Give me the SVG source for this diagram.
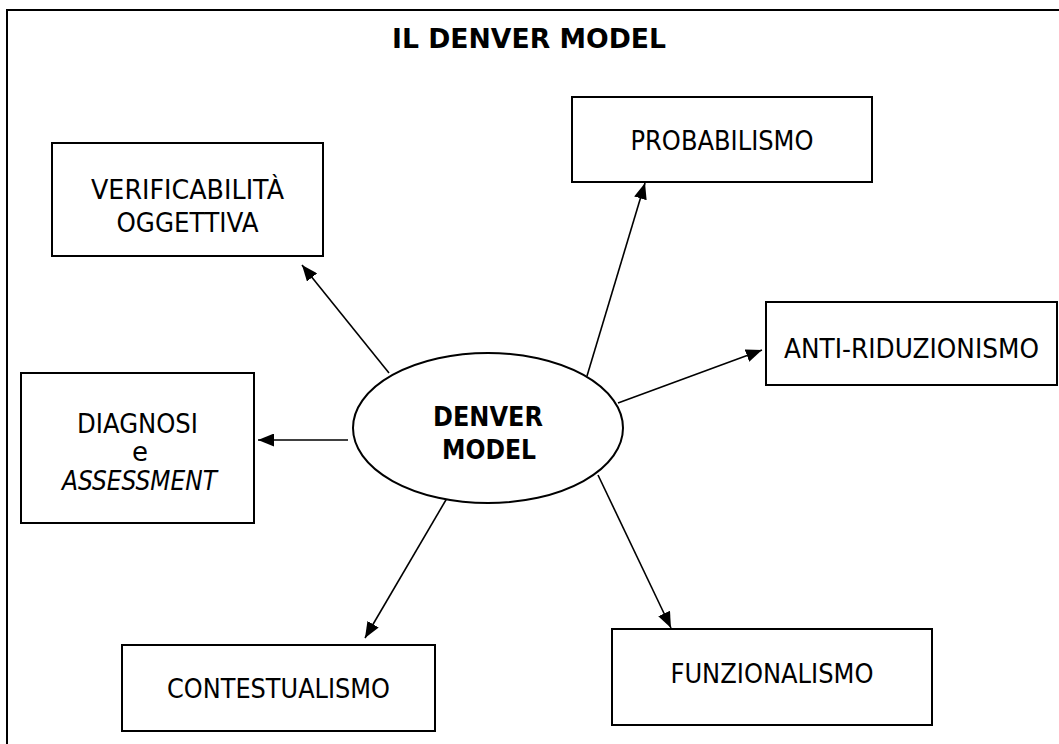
<svg xmlns="http://www.w3.org/2000/svg" width="1059" height="744" viewBox="0 0 1059 744">
<style>
.box{fill:#fff;stroke:#000;stroke-width:2}
.t{font-family:"DejaVu Sans","Liberation Sans",sans-serif;font-size:26px;fill:#000;text-anchor:middle}
.b{font-weight:bold;font-size:26px}
.i{font-style:italic}
.c{stroke:#000;stroke-width:1.6;fill:none;marker-end:url(#ah)}
</style>
<defs>
<marker id="ah" markerUnits="userSpaceOnUse" markerWidth="16" markerHeight="13" refX="16" refY="6.5" orient="auto">
<path d="M0,0 L16,6.5 L0,13 z" fill="#000"/>
</marker>
</defs>
<rect x="0" y="0" width="1059" height="744" fill="#fff"/>
<rect id="frame" x="7" y="10" width="1080" height="770" fill="none" stroke="#000" stroke-width="2"/>
<text class="t b" x="529" y="48" font-size="26" textLength="274" lengthAdjust="spacingAndGlyphs">IL DENVER MODEL</text>

<g id="connectors">
<line class="c" x1="389" y1="373" x2="302" y2="265"/>
<line class="c" x1="587" y1="376" x2="645" y2="183"/>
<line class="c" x1="618" y1="403" x2="762" y2="350"/>
<line class="c" x1="348" y1="440" x2="258" y2="440"/>
<line class="c" x1="450" y1="493" x2="365" y2="638"/>
<line class="c" x1="598" y1="475" x2="671" y2="628"/>
</g>

<g id="center">
<ellipse cx="488" cy="428" rx="135" ry="75" fill="#fff" stroke="#000" stroke-width="2"/>
<text class="t b" x="488" y="426" textLength="110" lengthAdjust="spacingAndGlyphs">DENVER</text>
<text class="t b" x="489" y="459" textLength="94" lengthAdjust="spacingAndGlyphs">MODEL</text>
</g>

<g id="verificabilita">
<rect class="box" x="52" y="143" width="271" height="113"/>
<text class="t" x="187.5" y="199" textLength="193" lengthAdjust="spacingAndGlyphs">VERIFICABILITÀ</text>
<text class="t" x="187.5" y="232" textLength="142" lengthAdjust="spacingAndGlyphs">OGGETTIVA</text>
</g>

<g id="probabilismo">
<rect class="box" x="572" y="97" width="300" height="85"/>
<text class="t" x="722" y="150" textLength="183" lengthAdjust="spacingAndGlyphs">PROBABILISMO</text>
</g>

<g id="antiriduzionismo">
<rect class="box" x="766" y="302" width="291" height="83"/>
<text class="t" x="911.5" y="358" textLength="255" lengthAdjust="spacingAndGlyphs">ANTI-RIDUZIONISMO</text>
</g>

<g id="diagnosi">
<rect class="box" x="21" y="373" width="233" height="150"/>
<text class="t" x="137.5" y="433" textLength="121" lengthAdjust="spacingAndGlyphs">DIAGNOSI</text>
<text class="t" x="140" y="461">e</text>
<text class="t i" x="139.5" y="490" textLength="155" lengthAdjust="spacingAndGlyphs">ASSESSMENT</text>
</g>

<g id="contestualismo">
<rect class="box" x="122" y="645" width="313" height="86"/>
<text class="t" x="278.5" y="698" textLength="223" lengthAdjust="spacingAndGlyphs">CONTESTUALISMO</text>
</g>

<g id="funzionalismo">
<rect class="box" x="612" y="629" width="320" height="96"/>
<text class="t" x="772" y="683" textLength="203" lengthAdjust="spacingAndGlyphs">FUNZIONALISMO</text>
</g>
</svg>
